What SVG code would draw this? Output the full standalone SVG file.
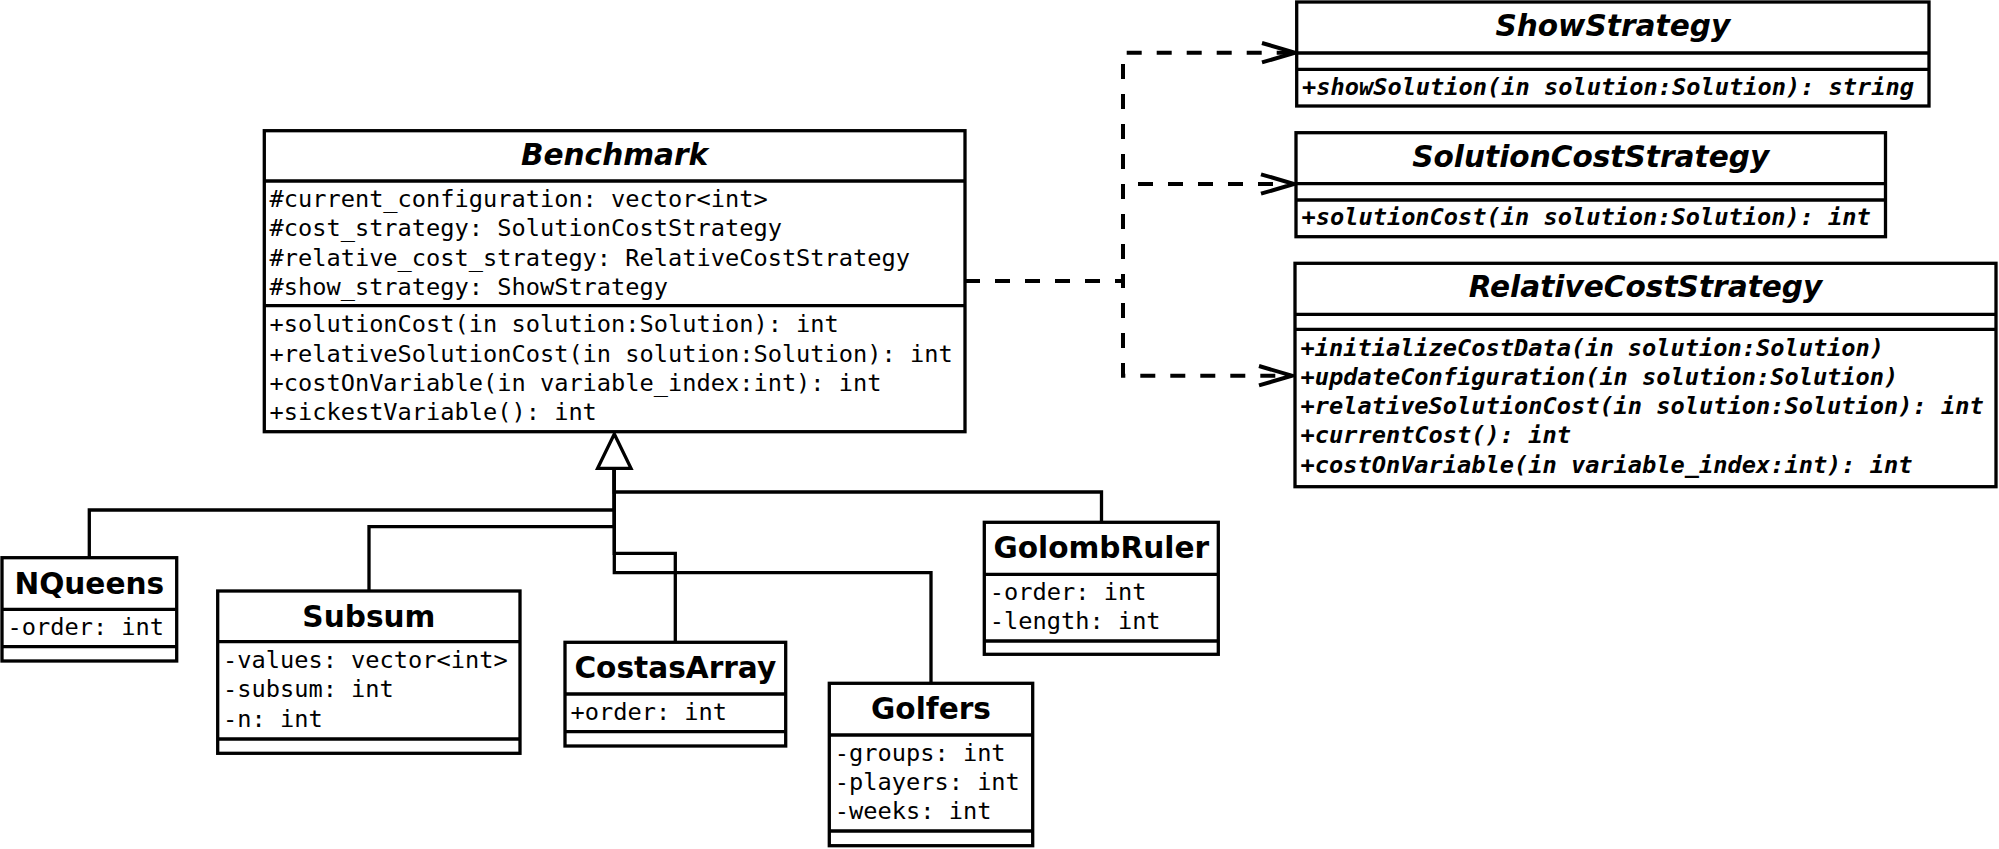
<svg xmlns="http://www.w3.org/2000/svg" width="1999" height="849" viewBox="0 0 1999 849">
<style>
.box{fill:#fff;stroke:#000;stroke-width:3.3}
.div{stroke:#000;stroke-width:3.3;fill:none}
.t{font-family:"DejaVu Sans","Liberation Sans",sans-serif;font-weight:bold;font-size:29.6px;text-anchor:middle;fill:#000}
.ti{font-style:italic}
.m{font-family:"DejaVu Sans Mono","Liberation Mono",monospace;font-size:23.65px;fill:#000}
.mi{font-weight:bold;font-style:italic}
.inh{fill:none;stroke:#000;stroke-width:3.3}
.dep{fill:none;stroke:#000;stroke-width:4;stroke-dasharray:15,15}
.head{fill:none;stroke:#000;stroke-width:4}
</style>
<rect width="1999" height="849" fill="#fff"/>
<g id="connectors">
<path class="inh" d="M89.3,557.7 V510 H614.3 V468.3"/>
<path class="inh" d="M369,591 V526.7 H614.3 V468.3"/>
<path class="inh" d="M1101.5,522.3 V492 H614.3 V468.3"/>
<path class="inh" d="M675.3,642.3 V553.3 H614.3 V468.3"/>
<path class="inh" d="M931,683.3 V572.7 H614.3 V468.3"/>
<path d="M614.3,434 L631,468.3 L597.6,468.3 Z" fill="#fff" stroke="#000" stroke-width="3.3" stroke-linejoin="miter"/>
<path class="dep" d="M965,281 H1123 V52.7 H1294"/>
<path class="dep" d="M965,281 H1123 V184 H1293"/>
<path class="dep" d="M965,281 H1123 V375.7 H1291"/>
<path class="head" d="M1262,43 L1295,52.7 L1262,62.4"/>
<path class="head" d="M1261,174.3 L1294,184 L1261,193.7"/>
<path class="head" d="M1259,366 L1292,375.7 L1259,385.4"/>
</g>
<g id="Benchmark">
<rect class="box" x="264.3" y="130.7" width="700.7" height="301"/>
<path class="div" d="M264.3,181 H965 M264.3,305.7 H965"/>
<text class="t ti" x="614.6" y="164.5">Benchmark</text>
<text class="m" x="269.5" y="207">#current_configuration: vector&lt;int&gt;</text>
<text class="m" x="269.5" y="236.3">#cost_strategy: SolutionCostStrategy</text>
<text class="m" x="269.5" y="265.6">#relative_cost_strategy: RelativeCostStrategy</text>
<text class="m" x="269.5" y="295">#show_strategy: ShowStrategy</text>
<text class="m" x="269.5" y="332.3">+solutionCost(in solution:Solution): int</text>
<text class="m" x="269.5" y="361.6">+relativeSolutionCost(in solution:Solution): int</text>
<text class="m" x="269.5" y="391">+costOnVariable(in variable_index:int): int</text>
<text class="m" x="269.5" y="420.3">+sickestVariable(): int</text>
</g>
<g id="ShowStrategy">
<rect class="box" x="1296.7" y="2" width="632.3" height="104"/>
<path class="div" d="M1296.7,53 H1929 M1296.7,69.3 H1929"/>
<text class="t ti" x="1612.8" y="35.5">ShowStrategy</text>
<text class="m mi" x="1302" y="95">+showSolution(in solution:Solution): string</text>
</g>
<g id="SolutionCostStrategy">
<rect class="box" x="1296" y="132.7" width="589.5" height="104"/>
<path class="div" d="M1296,183.7 H1885.5 M1296,200 H1885.5"/>
<text class="t ti" x="1590.7" y="166.5">SolutionCostStrategy</text>
<text class="m mi" x="1301.5" y="225">+solutionCost(in solution:Solution): int</text>
</g>
<g id="RelativeCostStrategy">
<rect class="box" x="1295" y="263.3" width="701" height="223.4"/>
<path class="div" d="M1295,314.3 H1996 M1295,329.3 H1996"/>
<text class="t ti" x="1645.5" y="297">RelativeCostStrategy</text>
<text class="m mi" x="1300.5" y="355.5">+initializeCostData(in solution:Solution)</text>
<text class="m mi" x="1300.5" y="384.8">+updateConfiguration(in solution:Solution)</text>
<text class="m mi" x="1300.5" y="414.1">+relativeSolutionCost(in solution:Solution): int</text>
<text class="m mi" x="1300.5" y="443.4">+currentCost(): int</text>
<text class="m mi" x="1300.5" y="472.7">+costOnVariable(in variable_index:int): int</text>
</g>
<g id="NQueens">
<rect class="box" x="2" y="557.7" width="174.7" height="103.3"/>
<path class="div" d="M2,609.3 H176.7 M2,646.7 H176.7"/>
<text class="t" x="89.3" y="594">NQueens</text>
<text class="m" x="7.5" y="635">-order: int</text>
</g>
<g id="Subsum">
<rect class="box" x="217.7" y="591" width="302.3" height="162.3"/>
<path class="div" d="M217.7,641.7 H520 M217.7,739 H520"/>
<text class="t" x="368.9" y="627">Subsum</text>
<text class="m" x="223" y="668">-values: vector&lt;int&gt;</text>
<text class="m" x="223" y="697.3">-subsum: int</text>
<text class="m" x="223" y="726.6">-n: int</text>
</g>
<g id="CostasArray">
<rect class="box" x="565" y="642.3" width="220.7" height="103.7"/>
<path class="div" d="M565,694 H785.7 M565,731.7 H785.7"/>
<text class="t" x="675.3" y="678.3">CostasArray</text>
<text class="m" x="570.5" y="720">+order: int</text>
</g>
<g id="Golfers">
<rect class="box" x="829.3" y="683.3" width="203.4" height="162.4"/>
<path class="div" d="M829.3,735 H1032.7 M829.3,831 H1032.7"/>
<text class="t" x="931" y="719">Golfers</text>
<text class="m" x="834.8" y="760.5">-groups: int</text>
<text class="m" x="834.8" y="789.8">-players: int</text>
<text class="m" x="834.8" y="819.1">-weeks: int</text>
</g>
<g id="GolombRuler">
<rect class="box" x="984.3" y="522.3" width="234" height="132"/>
<path class="div" d="M984.3,574.3 H1218.3 M984.3,641 H1218.3"/>
<text class="t" x="1101.3" y="557.5">GolombRuler</text>
<text class="m" x="989.8" y="600">-order: int</text>
<text class="m" x="989.8" y="629.3">-length: int</text>
</g>
</svg>
